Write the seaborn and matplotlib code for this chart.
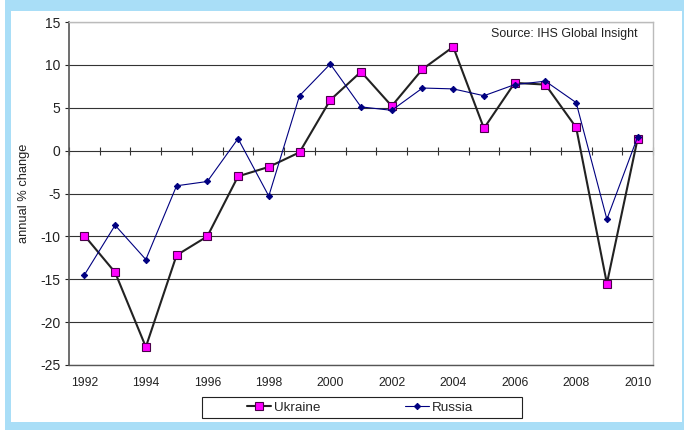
import pandas as pd
import matplotlib.pyplot as plt
import seaborn as sns
from matplotlib.patches import Rectangle

years = list(range(1992, 2011))
ukraine = [-9.9, -14.2, -22.9, -12.2, -10.0, -3.0, -1.9, -0.2, 5.9, 9.2,
           5.2, 9.5, 12.1, 2.6, 7.9, 7.7, 2.7, -15.5, 1.4]
russia = [-14.5, -8.7, -12.7, -4.1, -3.6, 1.4, -5.3, 6.4, 10.1, 5.1,
          4.7, 7.3, 7.2, 6.4, 7.7, 8.1, 5.6, -8.0, 1.6]

df = pd.DataFrame({'year': years, 'Ukraine': ukraine, 'Russia': russia})

sns.set_style('white')
plt.rcParams['font.family'] = ['Liberation Sans', 'DejaVu Sans']
plt.rcParams['axes.unicode_minus'] = False

fig = plt.figure(figsize=(6.84, 4.30), dpi=100)
fig.patch.set_facecolor('white')
# light blue frame with white inner panel
fig.add_artist(Rectangle((5 / 684, 0), 679 / 684, 1, transform=fig.transFigure,
                         facecolor='#a9def7', edgecolor='none', zorder=-2))
fig.add_artist(Rectangle((11 / 684, 8 / 430), 671 / 684, 411 / 430, transform=fig.transFigure,
                         facecolor='white', edgecolor='none', zorder=-1))

ax = fig.add_axes([69 / 684, 65 / 430, 584 / 684, 343 / 430])
ax.set_facecolor('white')

sns.lineplot(data=df, x='year', y='Ukraine', ax=ax, color='#222222', linewidth=1.5,
             marker='s', markersize=5.2, markerfacecolor='#ff00ff',
             markeredgecolor='#4a004a', markeredgewidth=0.8, label='Ukraine', zorder=3)
sns.lineplot(data=df, x='year', y='Russia', ax=ax, color='#000080', linewidth=0.8,
             marker='D', markersize=3.2, markerfacecolor='#000080',
             markeredgecolor='#000080', label='Russia', zorder=4)

ax.set_xlim(1991.5, 2010.5)
ax.set_ylim(-25, 15)
ax.set_yticks(range(-25, 16, 5))
ax.set_xticks(years[::2])
ax.tick_params(axis='x', length=0, labelsize=8.8, colors='#222222', pad=9)
ax.tick_params(axis='y', length=3, width=0.8, direction='out', labelsize=10,
               colors='#222222', left=True, pad=3)
ax.grid(axis='y', color='#333333', linewidth=0.8)
ax.set_axisbelow(True)

for side in ['top', 'right']:
    ax.spines[side].set_color('#bbbbbb')
    ax.spines[side].set_linewidth(1)
ax.spines['left'].set_color('#555555')
ax.spines['left'].set_linewidth(1.2)
ax.spines['bottom'].set_color('#555555')
ax.spines['bottom'].set_linewidth(1)

# category boundary ticks on the zero line
sec = ax.secondary_xaxis(25 / 40)
sec.set_xticks([y + 0.5 for y in years[:-1]] + [years[0] - 0.5, years[-1] + 0.5])
sec.tick_params(direction='inout', length=6, width=0.8, color='#333333', labelbottom=False,
                labeltop=False)
sec.spines['bottom'].set_visible(False)
sec.spines['top'].set_visible(False)

ax.set_xlabel('')
ax.set_ylabel('annual % change', fontsize=9.3, color='#222222')
ax.yaxis.set_label_coords(-0.066, 0.5)

ax.text(0.974, 0.966, 'Source: IHS Global Insight', transform=ax.transAxes,
        ha='right', va='center', fontsize=8.9, color='#222222')

# legend box below the plot, entries centred in their halves
fig.add_artist(Rectangle((202 / 684, 12 / 430), 320 / 684, 21 / 430, transform=fig.transFigure,
                         facecolor='white', edgecolor='#222222', linewidth=0.8, zorder=-0.5))
leg = ax.legend(loc='center', bbox_to_anchor=(360 / 684, 22.5 / 430),
                bbox_transform=fig.transFigure, ncol=2, frameon=False, fontsize=9.7,
                handlelength=1.8, handletextpad=0.2, columnspacing=6.3,
                borderaxespad=0, borderpad=0)

fig.savefig('out.png', dpi=100)
